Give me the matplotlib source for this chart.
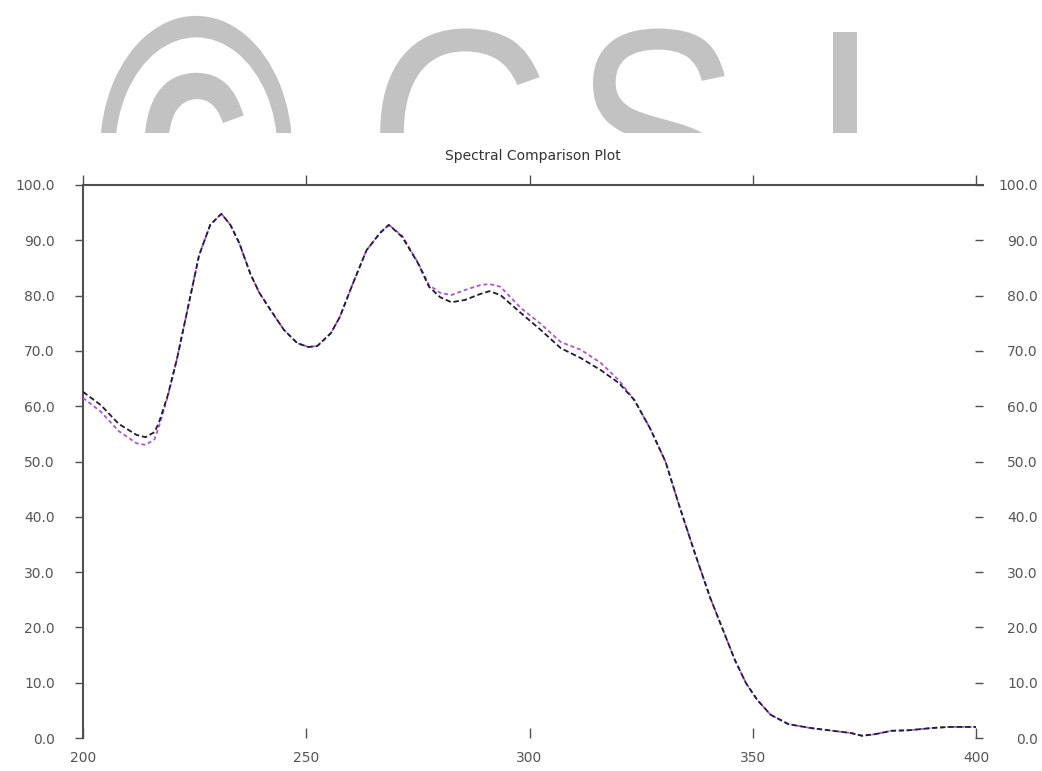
import matplotlib
matplotlib.use("Agg")
import matplotlib.pyplot as plt
import matplotlib.lines as mlines
import matplotlib.transforms as mtransforms
from matplotlib.patheffects import AbstractPathEffect
from matplotlib.transforms import Affine2D

W, H = 1042, 771

# ---------------- data ----------------
wavelength = [200, 204, 208, 212, 214, 216, 217, 219, 221, 224, 226, 228.5, 231, 233, 235,
              237.5, 239.5, 242, 245, 248, 250.5, 252.5, 255.5, 257.5, 260.5, 263.5, 266.5,
              268.5, 271.5, 275, 277.5, 280, 282.5, 285.5, 289, 291, 293.5, 298, 302.5, 307,
              311.5, 316, 320, 323.5, 327, 330.5, 333.5, 337, 340.5, 343.5, 346, 348.5, 351,
              354, 358, 363, 367, 372, 374.5, 377.5, 381, 385, 390, 394, 400]

sample_black = [62.6, 60.2, 56.8, 54.8, 54.4, 55.3, 57.0, 62.0, 68.4, 79.7, 87.3, 92.8, 94.8,
                92.8, 89.5, 83.9, 80.5, 77.4, 73.8, 71.4, 70.7, 70.9, 73.2, 76.1, 82.3, 88.2,
                91.3, 92.8, 90.6, 85.9, 81.6, 79.7, 78.8, 79.2, 80.3, 80.8, 80.1, 76.9, 73.8,
                70.5, 68.7, 66.5, 64.2, 61.1, 56.0, 49.9, 42.1, 33.5, 25.3, 19.2, 14.1, 9.9,
                6.9, 4.2, 2.5, 1.8, 1.4, 0.9, 0.4, 0.7, 1.3, 1.4, 1.8, 2.0, 2.0]

sample_purple = [61.5, 59.0, 55.5, 53.3, 53.0, 54.0, 56.3, 61.8, 68.4, 79.7, 87.3, 92.8, 94.8,
                 92.8, 89.5, 83.9, 80.5, 77.4, 73.8, 71.4, 70.7, 70.9, 73.2, 76.1, 82.3, 88.2,
                 91.3, 92.8, 90.8, 86.0, 81.9, 80.5, 80.1, 81.0, 81.9, 82.1, 81.6, 77.8, 74.9,
                 71.6, 70.2, 67.8, 64.7, 61.1, 56.0, 49.9, 42.1, 33.5, 25.3, 19.2, 14.1, 9.9,
                 6.9, 4.2, 2.5, 1.8, 1.4, 0.9, 0.4, 0.7, 1.3, 1.4, 1.8, 2.0, 2.0]

x_ticks = [200, 250, 300, 350, 400]
x_tick_labels = ["200", "250", "300", "350", "400"]
y_ticks = [0, 10, 20, 30, 40, 50, 60, 70, 80, 90, 100]
y_tick_labels = ["0.0", "10.0", "20.0", "30.0", "40.0", "50.0", "60.0", "70.0", "80.0",
                 "90.0", "100.0"]
title = "Spectral Comparison Plot"
watermark_chars = ["\u00a9", "G", "S", "I"]


# ---------------- helpers ----------------
class GlyphScale(AbstractPathEffect):
    """Scale glyph outlines about a source point and move them to a target point
    (display pixels)."""
    def __init__(self, src, dst, sx, sy):
        super().__init__()
        self.src, self.dst, self.sx, self.sy = src, dst, sx, sy

    def draw_path(self, renderer, gc, tpath, affine, rgbFace=None):
        t = affine + (Affine2D().translate(-self.src[0], -self.src[1])
                      .scale(self.sx, self.sy).translate(self.dst[0], self.dst[1]))
        renderer.draw_path(gc, tpath, t, rgbFace)


fig = plt.figure(figsize=(W / 100, H / 100), dpi=100)
fig.patch.set_facecolor("white")

# ---------------- watermark (clipped at y = 133 px) ----------------
wm_bottom = 133
wax = fig.add_axes([0, (H - wm_bottom) / H, 1, wm_bottom / H])
wax.set_xlim(0, W)
wax.set_ylim(wm_bottom, 0)
wax.axis("off")

small_fs = 50          # layout size of the watermark glyphs (pt)
small_base = 100       # layout baseline (px from top)
wm_specs = [  # (x centre px, target baseline px, target size pt, vertical stretch, weight)
    (196, 282, 196, 1.40, "bold"),
    (465, 238, 180, 1.20, "normal"),
    (657, 238, 180, 1.20, "normal"),
    (845, 238, 180, 1.20, "normal"),
]
for ch, (xc, yb, fs, st, wt) in zip(watermark_chars, wm_specs):
    k = fs / small_fs
    wax.text(xc, small_base, ch, ha="center", va="baseline", fontsize=small_fs,
             fontweight=wt, family="Liberation Sans", color="#c2c2c2", clip_on=True,
             path_effects=[GlyphScale((xc, H - small_base), (xc, H - yb), k, k * st)])

# ---------------- main chart ----------------
x0, x1 = 83, 983
y_top, y_bot = 185, 738
px_per_unit = (976 - 83) / 200.0
ax = fig.add_axes([x0 / W, (H - y_bot) / H, (x1 - x0) / W, (y_bot - y_top) / H])
ax.set_xlim(200, 200 + (x1 - x0) / px_per_unit)
ax.set_ylim(0, 100)

ax.plot(wavelength, sample_purple, color="#a457d8", lw=1.3, dashes=(2.2, 1.6), zorder=3)
ax.plot(wavelength, sample_black, color="#1d1d33", lw=1.3, dashes=(3.0, 1.6), zorder=4)

for side in ("right", "bottom"):
    ax.spines[side].set_visible(False)
for side in ("top", "left"):
    ax.spines[side].set_color("#505050")
    ax.spines[side].set_linewidth(1.5)

ax.set_xticks(x_ticks)
ax.set_xticklabels(x_tick_labels)
ax.set_yticks(y_ticks)
ax.set_yticklabels(y_tick_labels)

ax.tick_params(axis="x", which="major", bottom=True, top=True, labelbottom=True,
               labeltop=False, direction="in", length=7, width=1.0, color="#505050",
               labelsize=10, labelcolor="#555555", pad=9)
ax.tick_params(axis="y", which="major", left=True, right=True, labelleft=True,
               labelright=True, direction="out", length=5.8, width=1.0, color="#505050",
               labelsize=10, labelcolor="#555555", pad=14.4)

# top ticks point outward (up), bottom ticks inward
for t in ax.xaxis.get_major_ticks():
    t.tick2line.set_marker(mlines.TICKUP)
# right ticks point inward, right labels right-aligned near the edge
offset = mtransforms.ScaledTranslation(19.4 / 72, 0, fig.dpi_scale_trans)
for t in ax.yaxis.get_major_ticks():
    t.tick2line.set_marker(mlines.TICKLEFT)
    t.label2.set_horizontalalignment("right")
    t.label2.set_transform(t.label2.get_transform() + offset)

ax.set_title(title, fontsize=10, color="#333333", pad=18)

fig.savefig("out.png", dpi=100, facecolor="white")
